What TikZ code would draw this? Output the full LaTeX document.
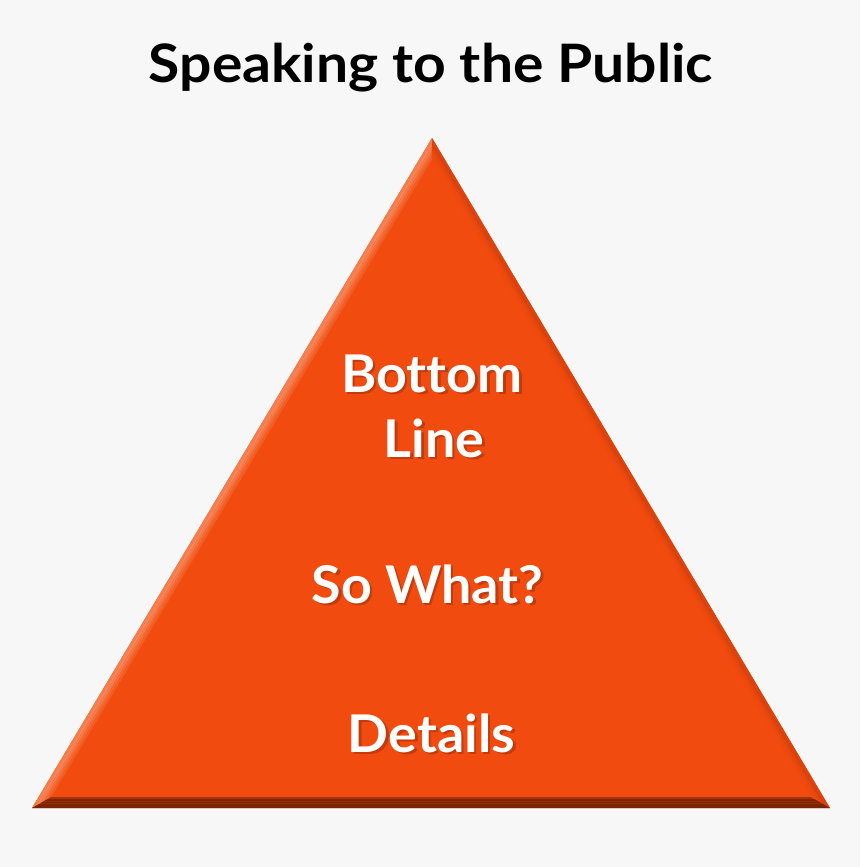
\documentclass[tikz,border=0pt]{standalone}
\usepackage{fontspec}
\setmainfont{Lato}[Ligatures={NoCommon}]
\newfontfamily\titlefont{Lato}[Ligatures={NoCommon},FakeStretch=1.075]
\newfontfamily\labelfont{Lato}[Ligatures={NoCommon},FakeStretch=1.035]
\usetikzlibrary{calc}
\definecolor{bgc}{HTML}{F7F7F7}
\definecolor{mainor}{HTML}{F24B0F}
\definecolor{shadowc}{HTML}{7A2406}
\tikzset{
  title/.style={anchor=base, font=\titlefont\fontsize{53}{60}\selectfont\bfseries, text=black, inner sep=0pt},
  label/.style={anchor=base, font=\labelfont\fontsize{52}{65}\selectfont\bfseries, text=white, inner sep=0pt},
  shadowlabel/.style={anchor=base, font=\labelfont\fontsize{52}{65}\selectfont\bfseries, text=shadowc, opacity=0.4, inner sep=0pt},
}
\begin{document}
\begin{tikzpicture}[x=1pt,y=-1pt]
\fill[bgc] (0,0) rectangle (860,867);
\useasboundingbox (0,0) rectangle (860,867);
% triangle geometry
\coordinate (A) at (432,138);
\coordinate (L) at (32,808);
\coordinate (R) at (830,808);
\coordinate (I) at (431.5,581.2);
\foreach \i/\k in {0/1,1/0.9903,2/0.9806,3/0.9709,4/0.9612,5/0.9515}{
  \coordinate (A\i) at ($(I)!\k!(A)$);
  \coordinate (L\i) at ($(I)!\k!(L)$);
  \coordinate (R\i) at ($(I)!\k!(R)$);
}
\fill[mainor] (A0) -- (L0) -- (R0) -- cycle;
% left bevel (highlight)
\foreach \i/\j/\c in {0/1/F57D4F,1/2/F68558,2/3/F57A4A,3/4/F46A35,4/5/F35C22}{
  \definecolor{bandc}{HTML}{\c}
  \fill[bandc] (A\i) -- (L\i) -- (L\j) -- (A\j) -- cycle;
}
% right bevel (slightly darker)
\foreach \i/\j/\c in {0/1/DC430D,1/2/D8420C,2/3/E4460E,3/4/EC490E,4/5/F04A0F}{
  \definecolor{bandc}{HTML}{\c}
  \fill[bandc] (A\i) -- (R\i) -- (R\j) -- (A\j) -- cycle;
}
% bottom bevel (dark)
\foreach \i/\j/\c in {0/1/7A2505,1/2/7A2505,2/3/7A2505,3/4/7D2605,4/5/A3340A}{
  \definecolor{bandc}{HTML}{\c}
  \fill[bandc] (L\i) -- (R\i) -- (R\j) -- (L\j) -- cycle;
}
% title
\node[title] (t) at (431,82) {Speaking to the Public};
% labels with soft shadows
\node[shadowlabel] (s1) at (434.5,394.5) {Bottom};
\node[shadowlabel] (s2) at (436.5,459.5) {Line};
\node[shadowlabel] (s3) at (430,605.5) {So What?};
\node[shadowlabel] (s4) at (434,754.5) {Details};
\node[label] (b1) at (432,392) {Bottom};
\node[label] (b2) at (434,457) {Line};
\node[label] (b3) at (427.5,603) {So What?};
\node[label] (b4) at (431.5,752) {Details};
\end{tikzpicture}
\end{document}
